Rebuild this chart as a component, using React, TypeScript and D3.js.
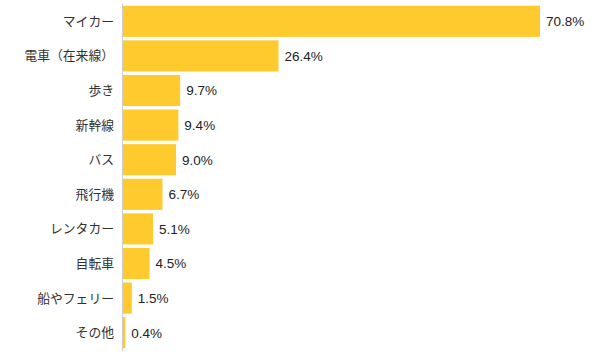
import React from "react";
import * as d3 from "d3";

const categories = ["マイカー", "電車（在来線）", "歩き", "新幹線", "バス", "飛行機", "レンタカー", "自転車", "船やフェリー", "その他"];
const values = [70.8, 26.4, 9.7, 9.4, 9.0, 6.7, 5.1, 4.5, 1.5, 0.4];
const valueLabels = ["70.8%", "26.4%", "9.7%", "9.4%", "9.0%", "6.7%", "5.1%", "4.5%", "1.5%", "0.4%"];

const W = 601, H = 356;
const left = 123, top = 4, bottom = 350;

export default function App() {
  const x = d3.scaleLinear().domain([0, 70.8]).range([left, 540]);
  const y = d3.scaleBand<string>().domain(categories).range([top, bottom]).paddingInner(0.1).paddingOuter(0.05);
  return (
    <svg width={W} height={H} style={{ position: "absolute", left: 0, top: 0 }}>
      <rect width={W} height={H} fill="#fff" />
      {categories.map((c, i) => (
        <g key={c}>
          <rect x={x(0)} y={y(c)!} width={x(values[i]) - x(0)} height={y.bandwidth()} fill="#FFCA2E" />
          <text x={114} y={y(c)! + y.bandwidth() / 2} dy="0.35em" textAnchor="end" fontSize={12.8} fill="#333" fontFamily="'Noto Sans CJK JP', sans-serif">{c}</text>
          <text x={x(values[i]) + 6} y={y(c)! + y.bandwidth() / 2} dy="0.36em" fontSize={13.5} fill="#222" fontFamily="'Liberation Sans', Arial, sans-serif">{valueLabels[i]}</text>
        </g>
      ))}
      <line x1={left - 0.5} x2={left - 0.5} y1={top} y2={bottom + 1} stroke="#ccc" strokeWidth={1} />
    </svg>
  );
}
